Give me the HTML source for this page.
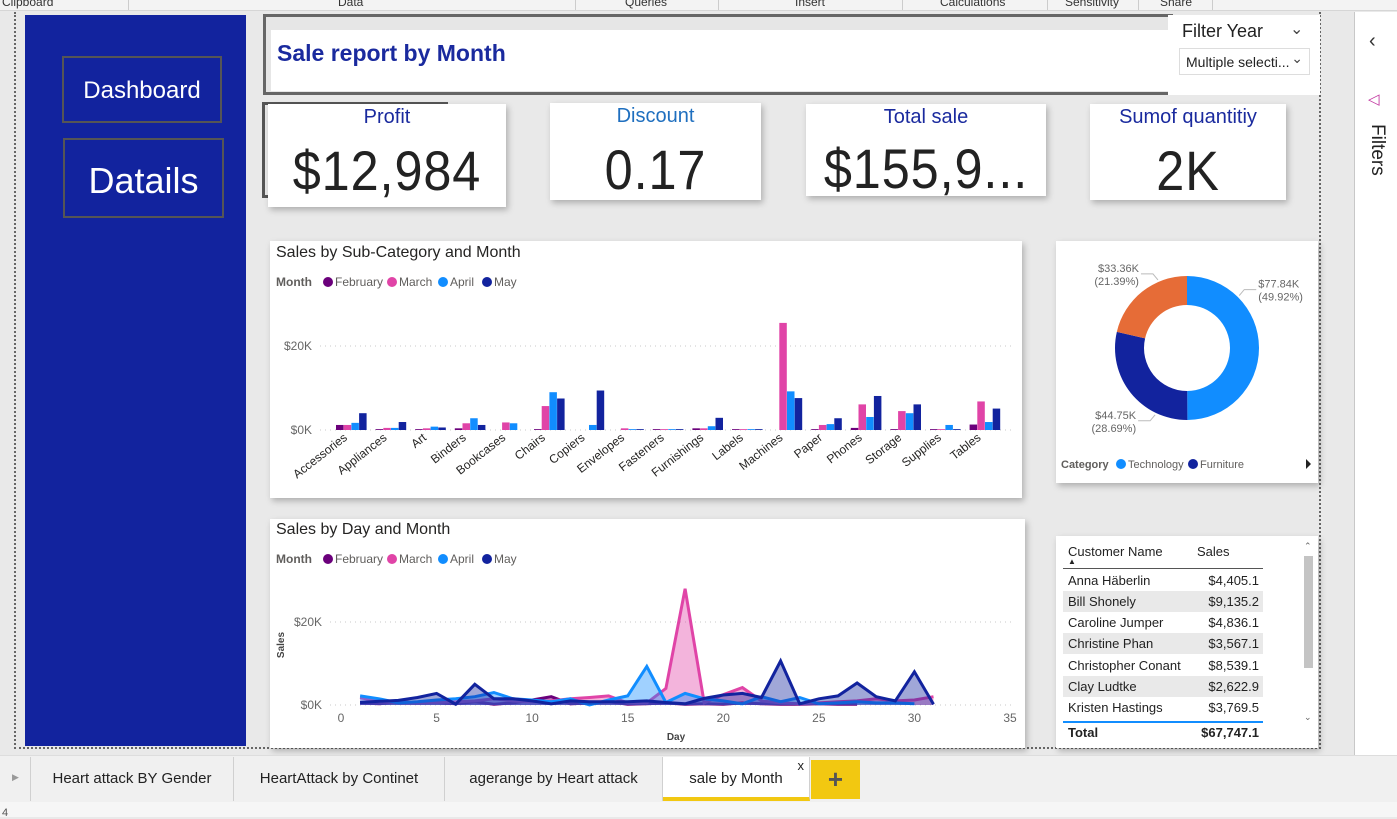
<!DOCTYPE html>
<html><head><meta charset="utf-8">
<style>
*{box-sizing:border-box;margin:0;padding:0}
body{width:1397px;height:817px;overflow:hidden;background:#e9e9e9;font-family:"Liberation Sans",sans-serif;position:relative}
.abs{position:absolute}
.card{position:absolute;background:#fff;box-shadow:2px 3px 6px rgba(0,0,0,0.25)}
.kt{position:absolute;width:100%;text-align:center;font-size:20px;color:#1a2a9e;top:2px}
.kv{position:absolute;width:100%;text-align:center;font-size:56px;color:#222;top:34px;letter-spacing:1px;transform:scaleX(0.9)}
.rib{position:absolute;top:-5px;font-size:12px;color:#333}
.tab{position:absolute;top:757px;height:44px;line-height:44px;font-size:15px;color:#222;text-align:center;border-right:1px solid #d0d0d0}
.tr{position:absolute;left:1063px;width:200px;height:21px;font-size:13px;color:#222;line-height:21px}
.tr span{position:absolute;left:5px}
.tr b{position:absolute;right:4px;font-weight:normal}
</style></head><body>
<div class="abs" style="left:0;top:0;width:1397px;height:11px;background:#f3f3f3;border-bottom:1px solid #d6d6d6;overflow:hidden">
<span class="rib" style="left:2px">Clipboard</span><span class="rib" style="left:338px">Data</span><span class="rib" style="left:625px">Queries</span><span class="rib" style="left:795px">Insert</span><span class="rib" style="left:940px">Calculations</span><span class="rib" style="left:1065px">Sensitivity</span><span class="rib" style="left:1160px">Share</span>
<div class="abs" style="left:128px;top:0;width:1px;height:11px;background:#ccc"></div><div class="abs" style="left:575px;top:0;width:1px;height:11px;background:#ccc"></div><div class="abs" style="left:718px;top:0;width:1px;height:11px;background:#ccc"></div><div class="abs" style="left:902px;top:0;width:1px;height:11px;background:#ccc"></div><div class="abs" style="left:1047px;top:0;width:1px;height:11px;background:#ccc"></div><div class="abs" style="left:1138px;top:0;width:1px;height:11px;background:#ccc"></div><div class="abs" style="left:1212px;top:0;width:1px;height:11px;background:#ccc"></div>
</div>
<div class="abs" style="left:14px;top:12px;width:1307px;height:737px;border-left:2px dotted #666;border-right:2px dotted #666;border-bottom:2px dotted #666"></div>
<div class="abs" style="left:25px;top:15px;width:221px;height:731px;background:#12239e"></div>
<div class="abs" style="left:62px;top:56px;width:160px;height:67px;border:2px solid #555;color:#fff;font-size:24px;text-align:center;line-height:66px">Dashboard</div>
<div class="abs" style="left:63px;top:138px;width:161px;height:80px;border:2px solid #555;color:#fff;font-size:36px;text-align:center;line-height:82px">Datails</div>

<div class="abs" style="left:263px;top:14px;width:910px;height:81px;border:3px solid #666;border-right:none;background:#e6e6e6"></div>
<div class="abs" style="left:271px;top:30px;width:900px;height:61px;background:#fff"><div class="abs" style="left:6px;top:10px;font-size:23px;font-weight:bold;color:#1a2a9e">Sale report by Month</div></div>
<div class="abs" style="left:1168px;top:15px;width:152px;height:80px;background:#fff">
<div class="abs" style="left:14px;top:6px;font-size:18px;color:#222">Filter Year</div>
<div class="abs" style="left:122px;top:4px;font-size:16px;color:#444">&#8964;</div>
<div class="abs" style="left:11px;top:33px;width:131px;height:27px;border:1px solid #ddd;font-size:14px;color:#222;line-height:26px;padding-left:6px">Multiple selecti...<span style="position:absolute;right:6px;top:-4px;color:#444">&#8964;</span></div>
</div>

<div class="abs" style="left:262px;top:102px;width:186px;height:96px;border:3px solid #555"></div>
<div class="card" style="left:268px;top:104px;width:238px;height:103px"><div class="kt">Profit</div><div class="kv">$12,984</div></div>
<div class="card" style="left:550px;top:103px;width:211px;height:97px"><div class="kt" style="color:#1f6fbf">Discount</div><div class="kv">0.17</div></div>
<div class="card" style="left:806px;top:104px;width:240px;height:92px"><div class="kt">Total sale</div><div class="kv" style="top:32px">$155,9...</div></div>
<div class="card" style="left:1090px;top:104px;width:196px;height:96px"><div class="kt">Sumof quantitiy</div><div class="kv">2K</div></div>

<div class="card" style="left:270px;top:241px;width:752px;height:257px"><div class="abs" style="left:6px;top:3px;font-size:16px;color:#252423">Sales by Sub-Category and Month</div></div>
<div class="card" style="left:1056px;top:241px;width:262px;height:242px"></div>
<div class="card" style="left:270px;top:519px;width:755px;height:229px"><div class="abs" style="left:6px;top:2px;font-size:16px;color:#252423">Sales by Day and Month</div></div>
<div class="card" style="left:1056px;top:536px;width:262px;height:212px"></div>

<div class="abs" style="left:1354px;top:12px;width:43px;height:745px;background:#fff;border-left:1px solid #c8c8c8">
<div class="abs" style="left:14px;top:18px;font-size:20px;color:#333">&#8249;</div>
<div class="abs" style="left:13px;top:78px;font-size:15px;color:#c0339e">&#9665;</div>
<div class="abs" style="top:112px;font-size:19px;color:#222;transform:rotate(90deg);transform-origin:left top;left:33px">Filters</div>
</div>

<div class="abs" style="left:0;top:755px;width:1397px;height:47px;background:#f0f0f0;border-top:1px solid #ddd"></div>
<div class="abs" style="left:12px;top:772px;font-size:9px;color:#999">&#9654;</div>
<div class="tab" style="left:30px;width:204px;border-left:1px solid #d0d0d0">Heart attack BY Gender</div>
<div class="tab" style="left:234px;width:211px">HeartAttack by Continet</div>
<div class="tab" style="left:445px;width:218px">agerange by Heart attack</div>
<div class="tab" style="left:663px;width:147px;background:#fff;border-bottom:4px solid #f2c811;height:44px">sale by Month<span style="position:absolute;right:5px;top:-13px;font-size:13px">x</span></div>
<div class="abs" style="left:811px;top:760px;width:49px;height:39px;background:#f2c811;color:#555;font-size:26px;font-weight:bold;text-align:center;line-height:38px">+</div>
<div class="abs" style="left:0;top:802px;width:1397px;height:15px;background:#f6f6f6;font-size:11px;color:#555;padding-left:2px;padding-top:5px">4</div>

<div class="abs" style="left:1068px;top:544px;font-size:13px;color:#222">Customer Name</div>
<div class="abs" style="left:1197px;top:544px;font-size:13px;color:#222">Sales</div>
<div class="abs" style="left:1068px;top:557px;font-size:8px;color:#222">&#9650;</div>
<div class="abs" style="left:1063px;top:568px;width:200px;height:1px;background:#555"></div>
<div class="tr" style="top:570px"><span>Anna Häberlin</span><b>$4,405.1</b></div>
<div class="tr" style="top:591px;background:#e9e9e9"><span>Bill Shonely</span><b>$9,135.2</b></div>
<div class="tr" style="top:612px"><span>Caroline Jumper</span><b>$4,836.1</b></div>
<div class="tr" style="top:633px;background:#e9e9e9"><span>Christine Phan</span><b>$3,567.1</b></div>
<div class="tr" style="top:655px"><span>Christopher Conant</span><b>$8,539.1</b></div>
<div class="tr" style="top:676px;background:#e9e9e9"><span>Clay Ludtke</span><b>$2,622.9</b></div>
<div class="tr" style="top:697px"><span>Kristen Hastings</span><b>$3,769.5</b></div>
<div class="abs" style="left:1063px;top:721px;width:200px;height:2px;background:#118dff"></div>
<div class="tr" style="top:722px;font-weight:bold"><span>Total</span><b style="font-weight:bold">$67,747.1</b></div>
<div class="abs" style="left:1304px;top:556px;width:9px;height:112px;background:#c4c4c4"></div>
<div class="abs" style="left:1304px;top:541px;font-size:9px;color:#666">&#8963;</div>
<div class="abs" style="left:1304px;top:712px;font-size:9px;color:#666">&#8964;</div>

<svg id="charts" class="abs" style="left:0;top:0" width="1397" height="817" xmlns="http://www.w3.org/2000/svg" font-family="Liberation Sans, sans-serif"></svg>

<script>
const barCategories=["Accessories","Appliances","Art","Binders","Bookcases","Chairs","Copiers","Envelopes","Fasteners","Furnishings","Labels","Machines","Paper","Phones","Storage","Supplies","Tables"];
const barFeb=[1.2,0.2,0.2,0.4,0,0.2,0,0,0.2,0.4,0.2,0,0.2,0.5,0.2,0.2,1.3];
const barMar=[1.2,0.5,0.4,1.6,1.8,5.7,0,0.4,0.2,0.4,0.2,25.5,1.2,6.1,4.5,0.2,6.8];
const barApr=[1.7,0.5,0.8,2.8,1.6,9.0,1.2,0.2,0.2,0.9,0.2,9.2,1.4,3.1,4.0,1.2,1.9];
const barMay=[4.0,1.9,0.6,1.2,0,7.5,9.4,0.2,0.2,2.9,0.2,7.6,2.8,8.1,6.1,0.2,5.1];
const yTicks=[0,20];
const yTickLabels=["$0K","$20K"];
const lineFeb=[0.5,0.3,0.8,0.5,0.6,0.3,0.8,0.2,0.5,1.2,2.0,0.3,0.5,0.8,0.2,0.3,0.5,0.2,0.3,0.2,0.5,0.3,0.2,0.2,0.3,0.2,0.2];
const lineMar=[1.8,0.8,0.6,0.5,0.6,0.8,1.0,1.5,1.0,0.8,1.0,1.5,1.8,2.2,0.5,0.5,4.0,28.0,0.5,2.5,4.2,1.0,0.5,0.3,0.5,0.8,1.0,1.5,1.0,1.2,2.0];
const lineApr=[2.2,1.5,0.5,0.8,1.2,1.5,2.0,3.0,1.5,1.2,0.8,1.5,0.0,1.2,2.2,9.3,0.6,2.8,1.5,1.0,0.3,2.0,0.8,1.8,0.3,0.5,0.8,0.5,0.5,0.3];
const lineMay=[0.6,0.9,1.1,1.8,2.8,0.2,5.0,1.5,1.5,1.0,0.3,1.0,0.8,0.8,0.8,1.0,0.6,0.3,1.6,2.4,2.8,1.8,10.6,0.3,1.5,2.2,5.3,2.0,1.0,8.0,0.2];
const xTicks=[0,5,10,15,20,25,30,35];
const donutLabels=["Technology","Furniture","Office Supplies"];
const donutValues=[77.84,44.75,33.36];
const donutPctLabels=["(49.92%)","(28.69%)","(21.39%)"];
const monthNames=["February","March","April","May"];
const colors=["#6b007b","#e044a7","#118dff","#12239e"];

const svg=document.getElementById('charts');
const NS="http://www.w3.org/2000/svg";
function mk(tag,attrs,parent){const e=document.createElementNS(NS,tag);for(const k in attrs)e.setAttribute(k,attrs[k]);(parent||svg).appendChild(e);return e;}

function legend(y){
  const g=mk('g',{});
  
  
  const t=mk('text',{x:276,y:y+4,'font-size':12,'font-weight':'bold',fill:'#605e5c'},g);t.textContent='Month';
  const xs=[328,392,443,487];
  monthNames.forEach((m,i)=>{
    const c=mk('circle',{cx:xs[i],cy:y,r:5,fill:colors[i]},g);
    
    
    const tt=mk('text',{x:xs[i]+7,y:y+4,'font-size':12,fill:'#605e5c'},g);tt.textContent=m;
  });
}

const bx0=332,bstep=39.6,by0=430,bpx=84/20;
const bY=v=>by0-v*bpx;
const bX=i=>bx0+i*bstep;
legend(282);
yTicks.forEach((t,i)=>{
  const gl=mk('line',{x1:320,x2:1015,y1:bY(t),y2:bY(t),stroke:'#c8c8c8','stroke-dasharray':'1 4'});
  
  const tx=mk('text',{x:312,y:bY(t)+4,'font-size':12,fill:'#666','text-anchor':'end'});tx.textContent=yTickLabels[i];
  
});
const series=[barFeb,barMar,barApr,barMay];
barCategories.forEach((c,i)=>{
  series.forEach((s,j)=>{
    const v=s[i];if(v<=0)return;
    const r=mk('rect',{x:bX(i)+4+j*7.7,y:bY(v),width:7.5,height:by0-bY(v),fill:colors[j]});
    
    
  });
  const cx=bX(i)+16;
  const t=mk('text',{x:cx,y:439,'font-size':12,fill:'#252423','text-anchor':'end',transform:'rotate(-38 '+cx+' 439)'});
  t.textContent=c;
  
});

const lx0=341,lpx=669/35,ly0=705,lpy=83/20;
const lX=d=>lx0+d*lpx;
const lY=v=>ly0-v*lpy;
legend(559);
[0,20].forEach((t,i)=>{
  const gl=mk('line',{x1:330,x2:1015,y1:lY(t),y2:lY(t),stroke:'#c8c8c8','stroke-dasharray':'1 4'});
  
  const tx=mk('text',{x:322,y:lY(t)+4,'font-size':12,fill:'#666','text-anchor':'end'});tx.textContent=yTickLabels[i];
  
});
xTicks.forEach(t=>{
  const tx=mk('text',{x:lX(t),y:722,'font-size':12,fill:'#666','text-anchor':'middle'});tx.textContent=t;
  
});
const xt=mk('text',{x:676,y:740,'font-size':10,'font-weight':'bold',fill:'#444','text-anchor':'middle'});xt.textContent='Day';

const yt=mk('text',{x:284,y:645,'font-size':10,'font-weight':'bold',fill:'#444','text-anchor':'middle',transform:'rotate(-90 284 645)'});yt.textContent='Sales';

[lineFeb,lineMar,lineApr,lineMay].forEach((s,j)=>{
  let pts=s.map((v,i)=>lX(i+1).toFixed(1)+','+lY(v).toFixed(1));
  const area='M'+lX(1)+','+ly0+' L'+pts.join(' L')+' L'+lX(s.length)+','+ly0+' Z';
  const a=mk('path',{d:area,fill:colors[j],'fill-opacity':0.4});
  
  
  const l=mk('polyline',{points:pts.join(' '),fill:'none',stroke:colors[j],'stroke-width':3,'stroke-linejoin':'miter'});
  
  
});

const dcx=1187,dcy=348,R=72,r=43;
const dcolors=["#118dff","#12239e","#e66c37"];
const labelFrac=[0.25,0.25,0.7];
const total=donutValues.reduce((a,b)=>a+b,0);
let ang=0;
donutValues.forEach((v,i)=>{
  const a0=ang,a1=ang+v/total*2*Math.PI;ang=a1;
  const p=(rad,a)=>[dcx+rad*Math.sin(a),dcy-rad*Math.cos(a)];
  const lg=(a1-a0)>Math.PI?1:0;
  const [x0,y0]=p(R,a0),[x1,y1]=p(R,a1),[x2,y2]=p(r,a1),[x3,y3]=p(r,a0);
  const sl=mk('path',{d:`M${x0},${y0} A${R},${R} 0 ${lg} 1 ${x1},${y1} L${x2},${y2} A${r},${r} 0 ${lg} 0 ${x3},${y3} Z`,fill:dcolors[i]});
  
  
  const la=a0+labelFrac[i]*(a1-a0);
  const [lx,ly]=p(R+2,la);
  const right=Math.sin(la)>0;
  const up=Math.cos(la)>0;
  const ex=right?lx+5:lx-5, ey=ly+(up?-6:6);
  mk('polyline',{points:`${lx},${ly} ${ex},${ey} ${ex+(right?12:-12)},${ey}`,fill:'none',stroke:'#bbb'});
  const tx=right?ex+14:ex-14;
  const t1=mk('text',{x:tx,y:ey-2,'font-size':11,fill:'#666','text-anchor':right?'start':'end'});t1.textContent='$'+v.toFixed(2)+'K';
  const t2=mk('text',{x:tx,y:ey+11,'font-size':11,fill:'#666','text-anchor':right?'start':'end'});t2.textContent=donutPctLabels[i];
  
  
});
const dl=mk('text',{x:1061,y:468,'font-size':11,'font-weight':'bold',fill:'#605e5c'});dl.textContent='Category';

[[1121,"Technology",dcolors[0]],[1193,"Furniture",dcolors[1]]].forEach(([x,l,c])=>{
  const ci=mk('circle',{cx:x,cy:464,r:5,fill:c});
  
  
  const t=mk('text',{x:x+7,y:468,'font-size':11,fill:'#605e5c'});t.textContent=l;
});
const ar=mk('path',{d:'M1306,459 L1311,464 L1306,469 Z',fill:'#222'});


</script>
</body></html>
